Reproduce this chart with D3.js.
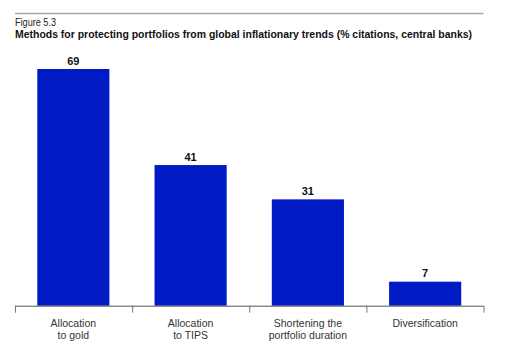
<!DOCTYPE html>
<html><head><meta charset="utf-8">
<script src="https://cdn.jsdelivr.net/npm/d3@7"></script>
<style>body{margin:0;background:#fff;} svg{display:block;}</style>
</head><body>
<svg id="c" width="512" height="349"></svg>
<script>
const categories = [["Allocation","to gold"],["Allocation","to TIPS"],["Shortening the","portfolio duration"],["Diversification"]];
const values = [69, 41, 31, 7];
const figureLabel = "Figure 5.3";
const title = "Methods for protecting portfolios from global inflationary trends (% citations, central banks)";

const svg = d3.select("#c");
const font = "'Liberation Sans', Arial, sans-serif";
const left = 15, right = 483.5, baseY = 305.7;

svg.append("line").attr("x1", left).attr("x2", right).attr("y1", 13.5).attr("y2", 13.5)
  .attr("stroke", "#a8a8a8").attr("stroke-width", 1.5);
svg.append("text").attr("x", left).attr("y", 25.5).text(figureLabel)
  .attr("font-family", font).attr("font-size", 10.5).attr("fill", "#222")
  .attr("textLength", 41).attr("lengthAdjust", "spacingAndGlyphs");
svg.append("text").attr("x", left).attr("y", 38).text(title)
  .attr("font-family", font).attr("font-size", 10.5).attr("font-weight", "bold").attr("fill", "#111")
  .attr("textLength", 457).attr("lengthAdjust", "spacingAndGlyphs");

const x = d3.scaleBand().domain(d3.range(values.length)).range([left, right]).paddingInner(0.385).paddingOuter(0.19);
const y = d3.scaleLinear().domain([0, 69]).range([baseY, 69]);

svg.selectAll("rect.bar").data(values).join("rect").attr("class", "bar")
  .attr("x", (d, i) => x(i)).attr("width", x.bandwidth())
  .attr("y", d => y(d)).attr("height", d => baseY - y(d))
  .attr("fill", "#001ac4");

svg.selectAll("text.val").data(values).join("text").attr("class", "val")
  .attr("x", (d, i) => x(i) + x.bandwidth() / 2).attr("y", d => y(d) - 4.5)
  .attr("text-anchor", "middle").attr("font-family", font).attr("font-size", 11)
  .attr("font-weight", "bold").attr("fill", "#111").text(d => d);

const axisScale = d3.scaleLinear().domain([0, values.length]).range([left, right]);
const ax = svg.append("g").attr("transform", `translate(0,${baseY})`)
  .call(d3.axisBottom(axisScale).tickValues(d3.range(values.length + 1)).tickSize(7).tickFormat(""));
ax.select(".domain").attr("stroke", "#555").attr("d", `M${left},0.5H${right}`);
ax.selectAll(".tick line").attr("stroke", "#777");

const lab = svg.selectAll("text.cat").data(categories).join("text").attr("class", "cat")
  .attr("text-anchor", "middle").attr("font-family", font).attr("font-size", 10.5).attr("fill", "#333");
lab.each(function(d, i) {
  const t = d3.select(this);
  d.forEach((line, j) => {
    t.append("tspan").attr("x", x(i) + x.bandwidth() / 2).attr("y", 326.5 + j * 12.5).text(line);
  });
});
</script>
</body></html>
